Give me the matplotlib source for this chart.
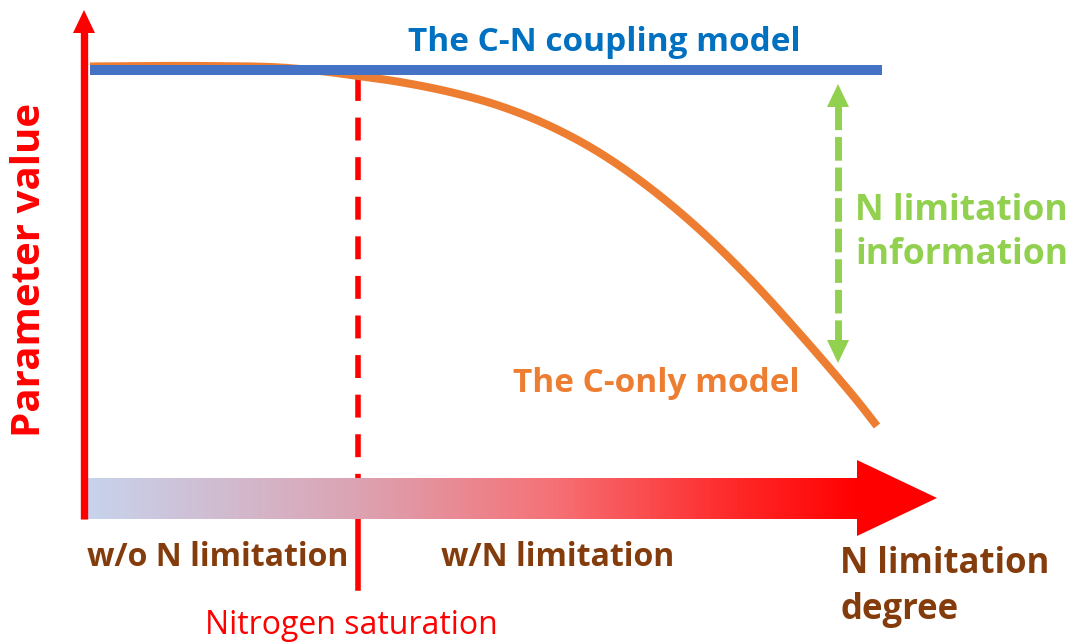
import numpy as np
import matplotlib.pyplot as plt
from matplotlib.colors import LinearSegmentedColormap
from matplotlib.patches import Polygon

plt.rcParams['font.family'] = ['Open Sans', 'DejaVu Sans']
plt.rcParams['lines.scale_dashes'] = False

# diagram drawn in a pixel-like frame (0..1071 x 0..644, y downward)
# C-only model curve
curve_x = [90, 150, 200, 270, 320, 358, 400, 450, 500, 550, 600, 650, 700, 750, 800, 850, 877]
curve_y = [66.5, 66, 66, 67, 71, 76, 82, 92, 106, 126, 153, 188, 230, 279, 334, 392, 426]

# C-N coupling model (constant)
coupling_x = [90, 882]
coupling_y = 70

saturation_x = 358

labels_top = "The C-N coupling model"
labels_conly = "The C-only model"
label_info = "N limitation\ninformation"
label_zones = ["w/o N limitation", "w/N limitation"]
label_xaxis = "N limitation\ndegree"
label_sat = "Nitrogen saturation"
label_yaxis = "Parameter value"


def catmull_rom(xs, ys, n=20):
    # smooth the hand-read points for drawing
    p = np.column_stack([xs, ys]).astype(float)
    p = np.vstack([p[0], p, p[-1]])
    out = []
    t = np.linspace(0, 1, n, endpoint=False)[:, None]
    for i in range(1, len(p) - 2):
        p0, p1, p2, p3 = p[i - 1], p[i], p[i + 1], p[i + 2]
        seg = 0.5 * ((2 * p1) + (-p0 + p2) * t
                     + (2 * p0 - 5 * p1 + 4 * p2 - p3) * t ** 2
                     + (-p0 + 3 * p1 - 3 * p2 + p3) * t ** 3)
        out.append(seg)
    out.append(p[-2][None, :])
    out = np.vstack(out)
    return out[:, 0], out[:, 1]


fig = plt.figure(figsize=(10.71, 6.44), dpi=100)
ax = fig.add_axes([0, 0, 1, 1])

# saturation line: dashed above the bar, solid below
ax.plot([saturation_x, saturation_x], [78, 500], color='#FF0000', lw=4,
        linestyle=(0, (16.5, 12)), zorder=2)
ax.plot([saturation_x, saturation_x], [521, 588], color='#FF0000', lw=4, zorder=2)

# gradient bar arrow
cmap = LinearSegmentedColormap.from_list('nlim', [
    (0.0, (0.78, 0.83, 0.93)),
    (0.35, (0.86, 0.64, 0.70)),
    (0.6, (0.96, 0.45, 0.47)),
    (0.85, (1.0, 0.15, 0.15)),
    (1.0, (1.0, 0.0, 0.0)),
])
grad = np.linspace(0, 1, 256).reshape(1, -1)
ax.imshow(grad, cmap=cmap, extent=[86, 858, 519, 478], aspect='auto', zorder=3)
ax.add_patch(Polygon([(857, 460), (937, 498), (857, 536)], closed=True,
                     facecolor='#FF0000', edgecolor='none', zorder=3))

# vertical axis arrow
ax.plot([84, 84], [519, 30], color='#FF0000', lw=5.3, solid_capstyle='butt', zorder=4)
ax.add_patch(Polygon([(73, 33), (84, 10), (95, 33)], closed=True,
                     facecolor='#FF0000', edgecolor='none', zorder=4))

# models
sx, sy = catmull_rom(curve_x, curve_y)
ax.plot(sx, sy, color='#ED7D31', lw=5.8, solid_capstyle='butt', zorder=5)
ax.plot(coupling_x, [coupling_y, coupling_y], color='#4472C4', lw=7.2,
        solid_capstyle='butt', zorder=6)

# green double arrow
green = '#92D050'
ax.plot([838, 838], [106, 340], color=green, lw=5, linestyle=(0, (17, 5)), zorder=5)
ax.add_patch(Polygon([(827, 107), (838, 84), (849, 107)], closed=True,
                     facecolor=green, edgecolor='none', zorder=5))
ax.add_patch(Polygon([(827, 340), (838, 363), (849, 340)], closed=True,
                     facecolor=green, edgecolor='none', zorder=5))

ax.set_xlim(0, 1071)
ax.set_ylim(644, 0)
ax.axis('off')

# texts
brown = '#843C0C'
ax.text(604, 42, labels_top, color='#0070C0', fontsize=24, fontweight='bold',
        ha='center', va='center')
ax.text(656, 383, labels_conly, color='#ED7D31', fontsize=24, fontweight='bold',
        ha='center', va='center')
ax.text(855, 233, label_info, color=green, fontsize=25.5, fontweight='bold',
        ha='left', va='center', linespacing=1.3)
ax.text(218, 557, label_zones[0], color=brown, fontsize=23, fontweight='bold',
        ha='center', va='center')
ax.text(558, 557, label_zones[1], color=brown, fontsize=23, fontweight='bold',
        ha='center', va='center')
ax.text(840, 587, label_xaxis, color=brown, fontsize=25, fontweight='bold',
        ha='left', va='center', linespacing=1.35)
ax.text(351, 625, label_sat, color='#FF0000', fontsize=23,
        ha='center', va='center')
ax.text(30, 270, label_yaxis, color='#FF0000', fontsize=29, fontweight='bold',
        ha='center', va='center', rotation=90)

fig.savefig('out.png', dpi=100)
